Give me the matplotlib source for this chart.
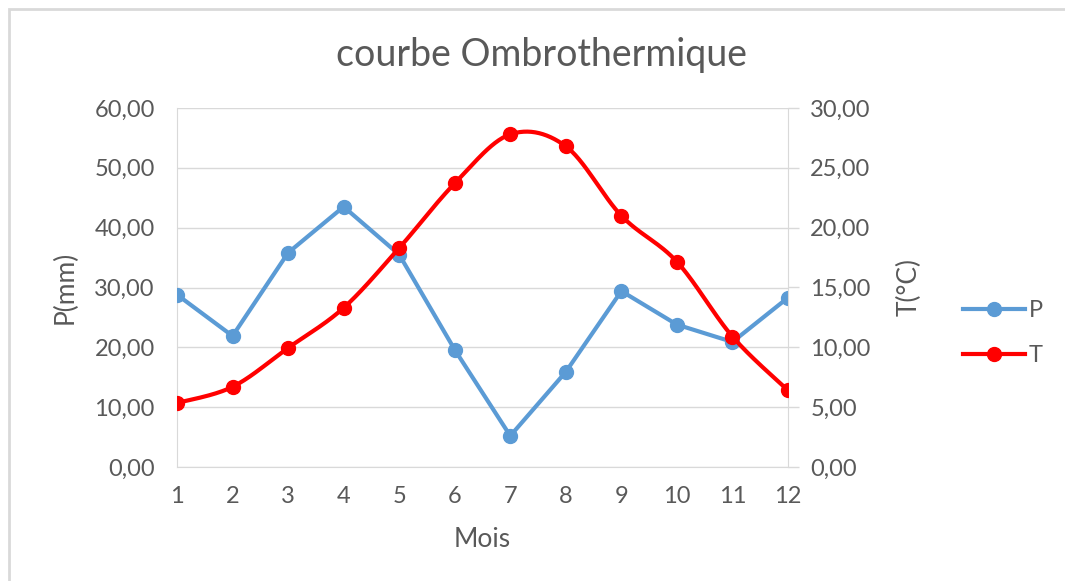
import numpy as np
import matplotlib.pyplot as plt
from matplotlib.lines import Line2D
from matplotlib.patches import Rectangle
from matplotlib.ticker import FuncFormatter

plt.rcParams['font.family'] = ['Lato', 'DejaVu Sans']

mois = [1, 2, 3, 4, 5, 6, 7, 8, 9, 10, 11, 12]
P = [28.8, 21.9, 35.8, 43.5, 35.5, 19.6, 5.2, 15.9, 29.4, 23.8, 20.9, 28.3]
T = [5.35, 6.7, 9.95, 13.3, 18.3, 23.7, 27.8, 26.8, 21.0, 17.15, 10.9, 6.4]

txt = '#595959'
grid = '#D9D9D9'
blue = '#5B9BD5'
red = '#FF0000'

#smoothed line like excel (catmull-rom bezier)
def smooth(x, y, n=30):
	x = np.asarray(x, float)
	y = np.asarray(y, float)
	pts = np.column_stack([x, y])
	ext = np.vstack([pts[0], pts, pts[-1]])
	out = []
	for i in range(len(pts) - 1):
		p0, p1, p2, p3 = ext[i], ext[i+1], ext[i+2], ext[i+3]
		c1 = p1 + (p2 - p0) / 6.0
		c2 = p2 - (p3 - p1) / 6.0
		t = np.linspace(0, 1, n)[:, None]
		seg = (1-t)**3*p1 + 3*(1-t)**2*t*c1 + 3*(1-t)*t**2*c2 + t**3*p2
		out.append(seg if i == 0 else seg[1:])
	out = np.vstack(out)
	return out[:, 0], out[:, 1]

fig = plt.figure(figsize=(10.65, 5.81), dpi=100)
ax = fig.add_axes([177/1065, 1-467/581, (788-177)/1065, (467-108)/581])
ax2 = ax.twinx()

fmt = FuncFormatter(lambda v, p: ('%.2f' % v).replace('.', ','))

ax.plot(mois, P, color=blue, lw=3, marker='o', ms=10, zorder=3)
sx, sy = smooth(mois, T)
ax2.plot(sx, sy, color=red, lw=3, zorder=3)
ax2.plot(mois, T, ls='none', color=red, marker='o', ms=10, zorder=4)

ax.set_xlim(1, 12)
ax.set_ylim(0, 60)
ax2.set_ylim(0, 30)
ax.set_xticks(mois)
ax.set_yticks(np.arange(0, 61, 10))
ax2.set_yticks(np.arange(0, 31, 5))
ax.yaxis.set_major_formatter(fmt)
ax2.yaxis.set_major_formatter(fmt)
ax.grid(axis='y', color=grid, lw=1)
ax.set_axisbelow(True)

for a in (ax, ax2):
	for s in a.spines.values():
		s.set_visible(False)
ax.spines['left'].set_visible(True)
ax.spines['left'].set_color(grid)
ax.spines['bottom'].set_visible(True)
ax.spines['bottom'].set_color(grid)
ax2.spines['right'].set_visible(True)
ax2.spines['right'].set_color(grid)

ax.tick_params(axis='x', length=0, colors=txt, labelsize=17, pad=14)
ax.tick_params(axis='y', length=0, colors=txt, labelsize=17, pad=16)
ax2.tick_params(axis='y', length=8, width=1, color=grid, labelcolor=txt, labelsize=17, pad=8)

ax.set_xlabel('Mois', color=txt, fontsize=19)
ax.set_ylabel('P(mm)', color=txt, fontsize=19)
ax2.set_ylabel('T(°C)', color=txt, fontsize=19)
ax.xaxis.set_label_coords((482-177)/611, (467-527)/359)
ax.yaxis.set_label_coords((78-177)/611, 0.5)
ax2.yaxis.set_label_coords((897-177)/611, 0.5)
fig.text(542/1065, 1-55/581, 'courbe Ombrothermique', ha='center', va='center', color=txt, fontsize=27)

handles = [Line2D([], [], color=blue, lw=3, marker='o', ms=10),
	Line2D([], [], color=red, lw=3, marker='o', ms=10)]
fig.legend(handles, ['P', 'T'], loc='center', bbox_to_anchor=(1003/1065, 1-333/581), frameon=False,
	fontsize=17, labelcolor=txt, handlelength=2.6, handletextpad=0.15, labelspacing=1.0)

#chart area border (cut by the screenshot on right/bottom)
fig.patches.append(Rectangle((9/1065, -0.1), 1.2, 1-9/581+0.1, transform=fig.transFigure,
	fill=False, edgecolor='#D9D9D9', lw=2))

fig.savefig('out.png', dpi=100)
